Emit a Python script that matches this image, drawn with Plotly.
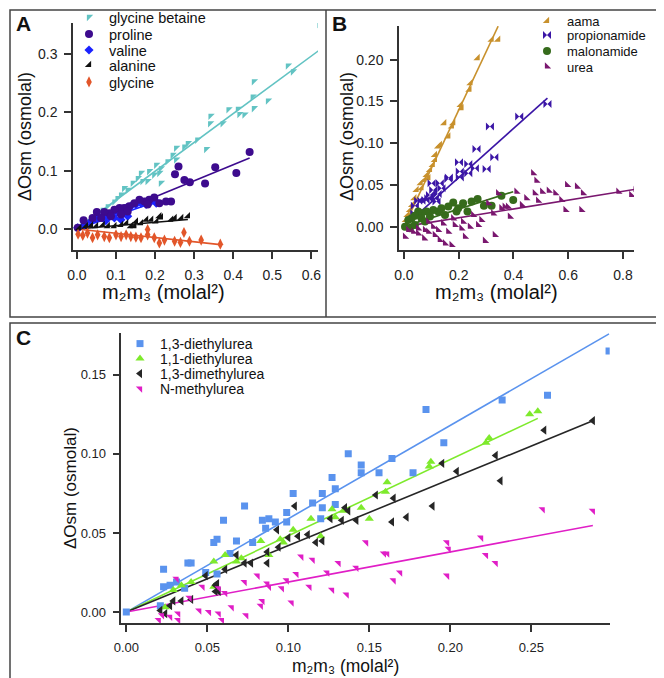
import plotly.graph_objects as go

W, H = 664, 678
def px(x): return x / W
def py(y): return 1 - y / H

# ---------------- Panel A data ----------------
gb_x = [0.621,0.540,0.553,0.453,0.450,0.453,0.489,0.429,0.416,0.412,0.388,0.373,0.342,0.341,0.331,0.308,0.284,0.275,0.254,0.254,0.245,0.215,0.215,0.211,0.198,0.185,0.181,0.168,0.164,0.156,0.143,0.130,0.121,0.113,0.104,0.096,0.079,0.066,0.053,0.040,0.027,0.015,0.006,0.203,0.232]
gb_y = [0.351,0.280,0.270,0.253,0.227,0.207,0.220,0.196,0.197,0.206,0.205,0.181,0.194,0.181,0.137,0.153,0.147,0.141,0.139,0.119,0.127,0.104,0.079,0.096,0.093,0.099,0.082,0.082,0.096,0.087,0.079,0.067,0.070,0.059,0.053,0.047,0.039,0.033,0.027,0.019,0.013,0.007,0.003,0.110,0.116]
pro_x = [0.442,0.408,0.354,0.328,0.260,0.251,0.275,0.289,0.241,0.228,0.211,0.198,0.185,0.173,0.160,0.147,0.134,0.121,0.109,0.096,0.083,0.070,0.051,0.040,0.017,0.002,0.130,0.113,0.087,0.062,0.181]
pro_y = [0.132,0.096,0.106,0.078,0.107,0.094,0.084,0.080,0.047,0.047,0.044,0.054,0.050,0.047,0.050,0.044,0.039,0.036,0.036,0.033,0.027,0.029,0.029,0.019,0.015,0.002,0.030,0.025,0.022,0.019,0.042]
val_x = [0.002,0.019,0.036,0.053,0.066,0.079,0.091,0.104,0.117,0.126,0.138,0.151,0.164,0.177,0.190,0.198,0.203,0.130,0.113,0.096,0.074]
val_y = [0.002,0.007,0.013,0.019,0.022,0.022,0.027,0.030,0.027,0.036,0.039,0.042,0.044,0.042,0.047,0.050,0.044,0.022,0.016,0.019,0.014]
ala_x = [0.284,0.267,0.250,0.241,0.215,0.203,0.190,0.177,0.164,0.151,0.138,0.126,0.113,0.096,0.079,0.066,0.049,0.036,0.023,0.006,0.211,0.147]
ala_y = [0.022,0.019,0.019,0.016,0.020,0.013,0.016,0.016,0.010,0.013,0.005,0.010,0.007,0.005,0.005,0.007,0.005,0.006,0.005,0.002,0.022,0.005]
gly_x = [0.367,0.318,0.288,0.274,0.265,0.250,0.224,0.211,0.198,0.181,0.164,0.151,0.138,0.126,0.113,0.100,0.083,0.070,0.053,0.040,0.027,0.015,0.003,0.181]
gly_y = [-0.026,-0.019,-0.021,-0.006,-0.023,-0.021,-0.019,-0.024,-0.015,-0.010,-0.015,-0.014,-0.013,-0.010,-0.013,-0.010,-0.015,-0.013,-0.010,-0.015,-0.007,-0.011,-0.009,-0.001]

A_names  = ["glycine betaine", "proline", "valine", "alanine", "glycine"]
A_colors = ["#62C3C3", "#3D0B8E", "#1A22FF", "#111111", "#E2562A"]
A_symbols = ["triangle-nw", "circle", "diamond", "triangle-se", "diamond-tall"]
A_sizes = [7, 8, 7, 7, 8]
A_fit_slope = [0.494, 0.275, 0.23, 0.057, -0.073]
A_fit_xmax = [0.62, 0.442, 0.203, 0.284, 0.367]
A_data = [(gb_x, gb_y), (pro_x, pro_y), (val_x, val_y), (ala_x, ala_y), (gly_x, gly_y)]
A_draw_order = [0, 2, 1, 3, 4]   # valine drawn under proline

# ---------------- Panel B data ----------------
aama_x = [0.344,0.320,0.269,0.243,0.239,0.207,0.210,0.180,0.175,0.147,0.162,0.131,0.125,0.113,0.113,0.105,0.095,0.083,0.074,0.061,0.046,0.038,0.030,0.022,0.013,0.007,0.089,0.064]
aama_y = [0.224,0.224,0.202,0.172,0.164,0.146,0.142,0.124,0.120,0.124,0.108,0.098,0.096,0.086,0.080,0.074,0.068,0.062,0.056,0.052,0.044,0.034,0.026,0.020,0.014,0.008,0.058,0.046]
prop_x = [0.524,0.421,0.314,0.330,0.265,0.302,0.259,0.235,0.201,0.204,0.235,0.204,0.164,0.162,0.131,0.101,0.107,0.137,0.123,0.095,0.079,0.064,0.052,0.040,0.038,0.089,0.113,0.119]
prop_y = [0.147,0.132,0.120,0.083,0.093,0.069,0.070,0.075,0.077,0.066,0.064,0.059,0.059,0.057,0.052,0.052,0.044,0.046,0.039,0.038,0.032,0.031,0.031,0.025,0.016,0.034,0.034,0.030]
mal_x = [0.356,0.399,0.320,0.292,0.269,0.247,0.232,0.216,0.180,0.192,0.162,0.125,0.137,0.107,0.083,0.064,0.052,0.040,0.028,0.016,0.004,0.022,0.040,0.064,0.095,0.077,0.150,0.198]
mal_y = [0.037,0.032,0.025,0.025,0.033,0.030,0.018,0.028,0.029,0.018,0.024,0.018,0.022,0.020,0.018,0.016,0.018,0.013,0.010,0.008,0.000,-0.002,0.002,0.010,0.012,0.006,0.014,0.022]
urea_x = [0.846,0.830,0.783,0.654,0.648,0.632,0.596,0.590,0.575,0.553,0.529,0.505,0.490,0.478,0.484,0.472,0.447,0.431,0.411,0.387,0.368,0.344,0.332,0.326,0.296,0.283,0.271,0.253,0.223,0.210,0.174,0.150,0.131,0.113,0.089,0.074,0.052,0.034,0.016,0.004,0.052,0.077,0.107,0.125,0.162,0.186,0.216,0.241,0.308,0.356,0.380,0.180,0.089,0.143]
urea_y = [0.044,0.038,0.042,0.040,0.020,0.048,0.050,0.020,0.032,0.040,0.043,0.042,0.031,0.040,0.055,0.064,0.034,0.026,0.042,0.012,0.024,0.040,-0.010,0.016,-0.017,0.008,0.002,0.014,-0.012,-0.002,-0.022,-0.020,-0.016,-0.010,-0.006,-0.014,-0.008,-0.006,-0.004,-0.012,-0.002,-0.004,0.000,-0.004,-0.006,0.002,0.006,0.000,0.028,0.022,0.024,0.010,0.006,0.004]

B_names = ["aama", "propionamide", "malonamide", "urea"]
B_colors = ["#C8912D", "#3B16A6", "#366B1C", "#7A176F"]
B_symbols = ["triangle-se", "bowtie", "circle", "triangle-sw"]
B_sizes = [7, 8, 8, 7]
B_fit_slope = [0.698, 0.294, 0.105, 0.053]
B_fit_xmax = [0.344, 0.524, 0.399, 0.846]
B_data = [(aama_x, aama_y), (prop_x, prop_y), (mal_x, mal_y), (urea_x, urea_y)]
B_draw_order = [0, 1, 2, 3]

# ---------------- Panel C data ----------------
deu13_x = [0.298,0.260,0.232,0.185,0.196,0.177,0.164,0.156,0.145,0.145,0.137,0.129,0.127,0.129,0.121,0.121,0.120,0.115,0.103,0.099,0.099,0.092,0.088,0.086,0.084,0.078,0.073,0.068,0.064,0.060,0.056,0.054,0.056,0.049,0.040,0.038,0.036,0.031,0.027,0.023,0.023,0.021,0.000]
deu13_y = [0.165,0.137,0.134,0.128,0.107,0.088,0.097,0.088,0.088,0.093,0.100,0.078,0.085,0.068,0.066,0.075,0.059,0.069,0.075,0.063,0.057,0.057,0.059,0.053,0.058,0.044,0.067,0.045,0.037,0.058,0.046,0.044,0.024,0.025,0.031,0.031,0.015,0.019,0.017,0.016,0.027,0.004,0.000]
deu11_x = [0.254,0.249,0.224,0.222,0.188,0.187,0.161,0.160,0.150,0.145,0.134,0.129,0.127,0.120,0.114,0.103,0.097,0.095,0.088,0.083,0.071,0.068,0.061,0.054,0.054,0.040,0.034,0.029,0.024]
deu11_y = [0.127,0.125,0.110,0.107,0.095,0.092,0.082,0.076,0.059,0.066,0.064,0.060,0.065,0.048,0.059,0.052,0.044,0.046,0.036,0.045,0.034,0.032,0.036,0.032,0.016,0.019,0.017,0.014,0.003]
dmu13_x = [0.288,0.258,0.228,0.231,0.204,0.195,0.189,0.173,0.165,0.164,0.154,0.142,0.137,0.135,0.133,0.126,0.121,0.117,0.112,0.106,0.104,0.100,0.093,0.094,0.087,0.087,0.077,0.073,0.068,0.061,0.057,0.055,0.056,0.055,0.049,0.040,0.034,0.029,0.027,0.024,0.021]
dmu13_y = [0.121,0.115,0.099,0.083,0.089,0.094,0.067,0.060,0.072,0.057,0.074,0.058,0.064,0.066,0.058,0.059,0.045,0.044,0.049,0.048,0.067,0.047,0.052,0.041,0.031,0.038,0.031,0.031,0.036,0.027,0.013,0.013,0.018,0.017,0.023,0.008,0.007,0.007,0.004,-0.001,0.001]
nmu_x = [0.288,0.257,0.228,0.222,0.219,0.199,0.198,0.198,0.169,0.165,0.161,0.159,0.148,0.142,0.136,0.131,0.127,0.124,0.115,0.113,0.108,0.105,0.102,0.099,0.096,0.087,0.088,0.084,0.083,0.081,0.074,0.073,0.065,0.061,0.059,0.057,0.057,0.051,0.047,0.045,0.039,0.032,0.032,0.031,0.027,0.022,0.020]
nmu_y = [0.064,0.065,0.031,0.036,0.047,0.040,0.044,0.023,0.025,0.020,0.037,0.037,0.044,0.028,0.011,0.031,0.014,0.025,0.033,0.016,0.035,0.024,0.006,0.020,0.015,0.018,0.016,0.007,0.004,0.023,-0.002,0.019,0.003,0.012,-0.005,-0.001,0.015,0.000,0.016,0.001,0.009,-0.005,-0.001,0.021,-0.003,-0.002,-0.005]

C_names = ["1,3-diethylurea", "1,1-diethylurea", "1,3-dimethylurea", "N-methylurea"]
C_colors = ["#5A93EE", "#7EEA2C", "#262626", "#E01EC6"]
C_symbols = ["square", "triangle-up", "triangle-left", "triangle-ne"]
C_sizes = [7, 8, 8, 7]
C_fit_slope = [0.590, 0.482, 0.420, 0.190]
C_fit_xmax = [0.298, 0.254, 0.288, 0.288]
C_data = [(deu13_x, deu13_y), (deu11_x, deu11_y), (dmu13_x, dmu13_y), (nmu_x, nmu_y)]
C_draw_order = [0, 1, 2, 3]

axcol = "#333333"
FONT = "Liberation Sans, Arial, sans-serif"

fig = go.Figure()
legends = {}
leg_counter = [0]

# legend key layout (left edge, row positions in px, font size)
A_key = dict(left=61, rows=[9, 26, 42, 57, 74], size=14.5)
B_key = dict(left=519, rows=[13, 27, 43, 58.5], size=13)
C_key = dict(left=112, rows=[336, 351, 366, 381], size=14)

def next_legend():
    leg_counter[0] += 1
    k = leg_counter[0]
    return "legend" if k == 1 else f"legend{k}"

def add_panel(names, colors, symbols, sizes, slopes, xmaxs, data, order, xa, ya, key):
    for c, s, xm in zip(colors, slopes, xmaxs):
        fig.add_trace(go.Scatter(x=[0, xm], y=[0, s * xm], mode="lines",
                                 line=dict(color=c, width=1.6), showlegend=False,
                                 xaxis=xa, yaxis=ya, hoverinfo="skip"))
    leg_ids = {}
    for i in range(len(names)):
        lid = next_legend()
        leg_ids[i] = lid
        legends[lid] = dict(bgcolor="rgba(0,0,0,0)",
                            font=dict(family=FONT, size=key["size"], color="#111"),
                            xanchor="left", yanchor="middle", itemwidth=30,
                            x=px(key["left"]), y=py(key["rows"][i]))
    for i in order:
        x, y = data[i]
        fig.add_trace(go.Scatter(x=x, y=y, mode="markers", name=names[i],
                                 marker=dict(color=colors[i], symbol=symbols[i], size=sizes[i],
                                             line=dict(width=0)),
                                 xaxis=xa, yaxis=ya, legend=leg_ids[i]))

add_panel(A_names, A_colors, A_symbols, A_sizes, A_fit_slope, A_fit_xmax, A_data, A_draw_order, "x", "y", A_key)
add_panel(B_names, B_colors, B_symbols, B_sizes, B_fit_slope, B_fit_xmax, B_data, B_draw_order, "x2", "y2", B_key)
add_panel(C_names, C_colors, C_symbols, C_sizes, C_fit_slope, C_fit_xmax, C_data, C_draw_order, "x3", "y3", C_key)

base = dict(showline=True, linecolor=axcol, linewidth=1.5, ticks="outside", ticklen=7,
            tickwidth=1.5, tickcolor=axcol, showgrid=False, zeroline=False, mirror=False,
            tickfont=dict(family=FONT, size=14, color="#222"), ticklabelstandoff=4)
baseC = dict(base, tickfont=dict(family=FONT, size=13, color="#222"))

fig.update_layout(
    width=W, height=H, margin=dict(l=0, r=0, t=0, b=0, autoexpand=False),
    paper_bgcolor="white", plot_bgcolor="white",
    font=dict(family=FONT),
    xaxis=dict(base, domain=[px(65), px(310)], range=[-0.01, 0.617], anchor="y",
               tickvals=[0, 0.1, 0.2, 0.3, 0.4, 0.5, 0.6], tickformat=".1f"),
    yaxis=dict(base, domain=[py(242), py(15)], range=[-0.036, 0.353], anchor="x",
               tickvals=[0, 0.1, 0.2, 0.3], tickformat=".1f"),
    xaxis2=dict(base, domain=[px(391), px(626)], range=[-0.018, 0.84], anchor="y2",
                tickvals=[0, 0.2, 0.4, 0.6, 0.8], tickformat=".1f"),
    yaxis2=dict(base, domain=[py(242), py(18)], range=[-0.028, 0.2404], anchor="x2",
                tickvals=[0, 0.05, 0.10, 0.15, 0.20], tickformat=".2f"),
    xaxis3=dict(baseC, domain=[px(113.3), px(601.7)], range=[-0.0031, 0.2984], anchor="y3",
                tickvals=[0, 0.05, 0.10, 0.15, 0.20, 0.25], tickformat=".2f"),
    yaxis3=dict(baseC, domain=[py(615.3), py(325)], range=[-0.0071, 0.1764], anchor="x3",
                tickvals=[0, 0.05, 0.10, 0.15], tickformat=".2f"),
    showlegend=True,
    **legends,
)

# panel frames
frame = dict(type="rect", xref="paper", yref="paper", line=dict(color="#444", width=1.5))
fig.add_shape(frame, x0=px(2), x1=px(662), y0=py(309), y1=py(2))
fig.add_shape(dict(type="line", xref="paper", yref="paper", line=dict(color="#444", width=1.5)),
              x0=px(318), x1=px(318), y0=py(309), y1=py(2))
fig.add_shape(frame, x0=px(2), x1=px(662), y0=py(676), y1=py(315))

# panel letters
for t, x, y in [("A", 15, 15), ("B", 331, 15), ("C", 15, 329)]:
    fig.add_annotation(text=t, x=px(x), y=py(y), xref="paper", yref="paper",
                       showarrow=False, font=dict(family=FONT, size=21, color="#111", weight="bold"),
                       xanchor="center", yanchor="middle")

ytitle = "ΔOsm (osmolal)"
xtitle = "m₂m₃ (molal²)"
for x, y, s in [(17, 129, 18), (339, 129, 18), (62, 480, 17)]:
    fig.add_annotation(text=ytitle, x=px(x), y=py(y), xref="paper", yref="paper", textangle=-90,
                       showarrow=False, font=dict(family=FONT, size=s, color="#111"),
                       xanchor="center", yanchor="middle")
for x, y, s in [(155, 284, 20), (488, 284, 20), (337, 658, 17.5)]:
    fig.add_annotation(text=xtitle, x=px(x), y=py(y), xref="paper", yref="paper",
                       showarrow=False, font=dict(family=FONT, size=s, color="#111"),
                       xanchor="center", yanchor="middle")

fig.write_html("out.html")
